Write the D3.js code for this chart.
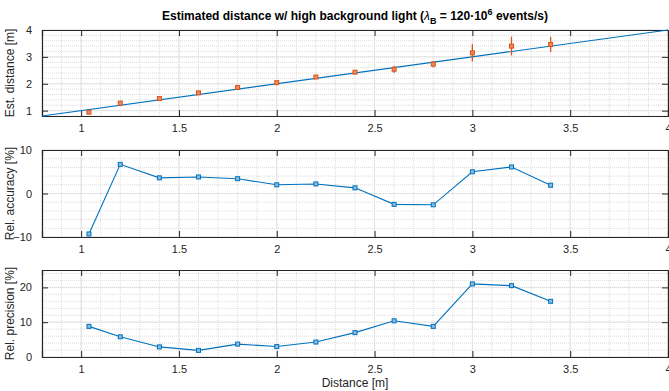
<!DOCTYPE html>
<html>
<head>
<meta charset="utf-8">
<script src="https://cdn.jsdelivr.net/npm/d3@7"></script>
<style>
  body { margin: 0; background: #fff; }
  svg { font-family: "Liberation Sans", Arial, sans-serif; }
</style>
</head>
<body>
<div id="chart"></div>
<script>
// distances measured [m]
const distances = [1.04, 1.2, 1.4, 1.6, 1.8, 2.0, 2.2, 2.4, 2.6, 2.8, 3.0, 3.2, 3.4];
// estimated distance [m] and error bar half-width
const estimated = [0.94, 1.28, 1.45, 1.66, 1.86, 2.04, 2.25, 2.43, 2.54, 2.73, 3.15, 3.40, 3.46];
const estError = [0.04, 0.04, 0.02, 0.02, 0.03, 0.03, 0.05, 0.08, 0.13, 0.12, 0.32, 0.35, 0.28];
// relative accuracy / precision [%]
const accuracy = [-9.3, 6.7, 3.6, 3.8, 3.4, 2.0, 2.2, 1.3, -2.5, -2.6, 5.0, 6.1, 1.9];
const precision = [8.8, 5.8, 2.9, 1.9, 3.7, 3.0, 4.3, 7.0, 10.4, 8.8, 21.0, 20.5, 16.0];
// ideal line
const idealLine = [0.8, 4];

const xTicks = [1, 1.5, 2, 2.5, 3, 3.5, 4];

const width = 669, height = 391;
const blue = '#0072BD', orange = '#D95319', axisColor = '#262626';

const svg = d3.select('#chart').append('svg')
    .attr('width', width)
    .attr('height', height);

const x = d3.scaleLinear().domain([0.8, 4]).range([42, 668]);

const panels = [
    { top: 30, bottom: 116, domain: [0.8, 4], ticks: [1, 2, 3, 4], minor: d3.range(0.8, 4.01, 0.2), label: 'Est. distance [m]' },
    { top: 150, bottom: 237, domain: [-10, 10], ticks: [-10, 0, 10], minor: d3.range(-10, 10.01, 2), label: 'Rel. accuracy [%]' },
    { top: 270, bottom: 357, domain: [0, 25], ticks: [0, 10, 20], minor: d3.range(0, 25.01, 2), label: 'Rel. precision [%]' }
];

const xMinor = d3.range(0.8, 4.001, 0.1);

function drawPanel(p) {
    const y = d3.scaleLinear().domain(p.domain).range([p.bottom, p.top]);
    const g = svg.append('g');
    const [x0, x1] = x.range();

    // minor grid
    g.selectAll('.minor-x').data(xMinor).enter().append('line')
        .attr('x1', d => x(d)).attr('x2', d => x(d))
        .attr('y1', p.top).attr('y2', p.bottom)
        .attr('stroke', '#dcdcdc').attr('stroke-width', 1).attr('stroke-dasharray', '1,1');
    g.selectAll('.minor-y').data(p.minor).enter().append('line')
        .attr('x1', x0).attr('x2', x1)
        .attr('y1', d => y(d)).attr('y2', d => y(d))
        .attr('stroke', '#dcdcdc').attr('stroke-width', 1).attr('stroke-dasharray', '1,1');

    // major grid
    g.selectAll('.major-x').data(xTicks).enter().append('line')
        .attr('x1', d => x(d)).attr('x2', d => x(d))
        .attr('y1', p.top).attr('y2', p.bottom)
        .attr('stroke', '#e3e3e3').attr('stroke-width', 1);
    g.selectAll('.major-y').data(p.ticks).enter().append('line')
        .attr('x1', x0).attr('x2', x1)
        .attr('y1', d => y(d)).attr('y2', d => y(d))
        .attr('stroke', '#e3e3e3').attr('stroke-width', 1);

    // axes (ticks inward, box on)
    const fmt = d3.format('~g');
    const xAxis = d3.axisBottom(x).tickValues(xTicks).tickSize(-6).tickPadding(8).tickFormat(fmt);
    const xAxisTop = d3.axisTop(x).tickValues(xTicks).tickSize(-6).tickFormat('');
    const yAxis = d3.axisLeft(y).tickValues(p.ticks).tickSize(-6).tickPadding(10).tickFormat(fmt);
    const yAxisRight = d3.axisRight(y).tickValues(p.ticks).tickSize(-6).tickFormat('');

    const axes = [
        g.append('g').attr('transform', `translate(0,${p.bottom})`).call(xAxis),
        g.append('g').attr('transform', `translate(0,${p.top})`).call(xAxisTop),
        g.append('g').attr('transform', `translate(${x0},0)`).call(yAxis),
        g.append('g').attr('transform', `translate(${x1},0)`).call(yAxisRight)
    ];
    axes.forEach(a => {
        a.select('.domain').attr('stroke', axisColor).attr('stroke-width', 1.2);
        a.selectAll('.tick line').attr('stroke', axisColor);
        a.selectAll('text').attr('fill', axisColor).attr('font-size', 11)
            .attr('font-family', '"Liberation Sans", Arial, sans-serif');
    });

    // y label
    svg.append('text')
        .attr('transform', `translate(14,${(p.top + p.bottom) / 2}) rotate(-90)`)
        .attr('text-anchor', 'middle')
        .attr('font-size', 12)
        .attr('fill', axisColor)
        .text(p.label);

    return { g, y };
}

// top panel: estimated distance
const p1 = drawPanel(panels[0]);
p1.g.append('line')
    .attr('x1', x(idealLine[0])).attr('y1', p1.y(idealLine[0]))
    .attr('x2', x(idealLine[1])).attr('y2', p1.y(idealLine[1]))
    .attr('stroke', blue).attr('stroke-width', 1.2);

p1.g.selectAll('.errbar').data(distances).enter().append('line')
    .attr('x1', d => x(d)).attr('x2', d => x(d))
    .attr('y1', (d, i) => p1.y(estimated[i] - estError[i]))
    .attr('y2', (d, i) => p1.y(estimated[i] + estError[i]))
    .attr('stroke', orange).attr('stroke-width', 1.3);

p1.g.selectAll('.est').data(distances).enter().append('rect')
    .attr('x', d => x(d) - 2)
    .attr('y', (d, i) => p1.y(estimated[i]) - 2)
    .attr('width', 4).attr('height', 4)
    .attr('fill', '#ec8a5e').attr('stroke', orange).attr('stroke-width', 1);

// accuracy + precision panels
function linePanel(p, values) {
    const { g, y } = drawPanel(p);
    const line = d3.line().x(d => x(d[0])).y(d => y(d[1]));
    const pts = distances.map((d, i) => [d, values[i]]);
    g.append('path')
        .datum(pts)
        .attr('fill', 'none')
        .attr('stroke', blue)
        .attr('stroke-width', 1.1)
        .attr('d', line);
    g.selectAll('.pt').data(pts).enter().append('rect')
        .attr('x', d => x(d[0]) - 2)
        .attr('y', d => y(d[1]) - 2)
        .attr('width', 4).attr('height', 4)
        .attr('fill', '#8cbbe0').attr('stroke', blue).attr('stroke-width', 1);
}

linePanel(panels[1], accuracy);
linePanel(panels[2], precision);

// title
const title = svg.append('text')
    .attr('x', 355).attr('y', 20)
    .attr('text-anchor', 'middle')
    .attr('font-size', 12)
    .attr('font-weight', 'bold')
    .attr('fill', '#000');
title.append('tspan').text('Estimated distance w/ high background light (');
title.append('tspan').attr('font-style', 'italic').attr('font-weight', 'normal').text('λ');
title.append('tspan').attr('font-size', 9).attr('dy', 4).text('B');
title.append('tspan').attr('dy', -4).text(' = 120·10');
title.append('tspan').attr('font-size', 9).attr('dy', -5).text('6');
title.append('tspan').attr('dy', 5).text(' events/s)');

// x label
svg.append('text')
    .attr('x', 355).attr('y', 387)
    .attr('text-anchor', 'middle')
    .attr('font-size', 12)
    .attr('fill', axisColor)
    .text('Distance [m]');
</script>
</body>
</html>
